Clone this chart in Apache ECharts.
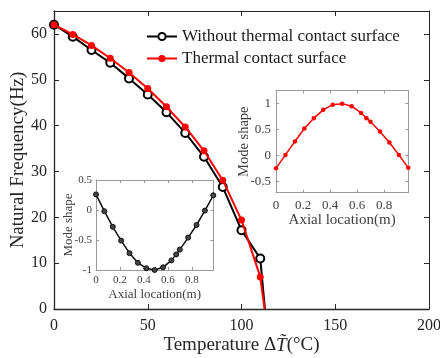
<!DOCTYPE html>
<html>
<head>
<meta charset="utf-8">
<script src="https://cdn.jsdelivr.net/npm/echarts@6/dist/echarts.min.js"></script>
<style>
html,body{margin:0;padding:0;background:#fff;}
#c{width:440px;height:358px;}
</style>
</head>
<body>
<div id="c"></div>
<script>
// ---- data ----
var temps = [0, 10, 20, 30, 40, 50, 60, 70, 80, 90, 100, 110];
var freqWithout = [62.0, 59.4, 56.5, 53.7, 50.3, 46.8, 42.9, 38.4, 33.2, 26.6, 17.2, 11.0];
var freqWith = [62.0, 59.9, 57.5, 54.7, 51.6, 48.1, 44.1, 39.7, 34.5, 28.1, 19.4, 7.0];
var endWithout = [112.5, 0];
var endWith = [112.3, 0];
var xTicksMain = [0, 50, 100, 150, 200];
var yTicksMain = [0, 10, 20, 30, 40, 50, 60];

var axial = [0, 0.07, 0.14, 0.21, 0.28, 0.35, 0.42, 0.49, 0.56, 0.63, 0.67, 0.70, 0.77, 0.84, 0.91, 0.98];
var modeWith = [-0.25, 0.01, 0.27, 0.52, 0.72, 0.88, 0.98, 1.0, 0.95, 0.82, 0.72, 0.65, 0.46, 0.25, 0.01, -0.24];
var modeWithout = [0.26, -0.02, -0.28, -0.51, -0.72, -0.88, -0.97, -1.0, -0.955, -0.84, -0.74, -0.66, -0.46, -0.25, -0.01, 0.245];
var xTicksInset = [0, 0.2, 0.4, 0.6, 0.8];
var yTicksRed = [-0.5, 0, 0.5, 1];
var yTicksBlack = [-1, -0.5, 0, 0.5];

var nameWithout = 'Without thermal contact surface';
var nameWith = 'Thermal contact surface';

// ---- helpers ----
var FF = '"Liberation Serif", "Times New Roman", serif';
function pairs(xs, ys) { return xs.map(function (x, i) { return [x, ys[i]]; }); }
function withEnd(xs, ys, end) {
  var d = pairs(xs, ys);
  d.push({ value: end, symbol: 'none' });
  return d;
}
function fmt(v) { return String(v); }

function mainAxisBase(extra) {
  var o = {
    type: 'value',
    nameMoveOverlap: false,
    axisLine: { show: true, onZero: false, lineStyle: { color: '#262626', width: 1.3 } },
    axisTick: { show: true, inside: true, length: 5, lineStyle: { color: '#262626', width: 1 } },
    splitLine: { show: false },
    axisLabel: { show: false }
  };
  for (var k in extra) o[k] = extra[k];
  return o;
}
function insetAxisBase(extra) {
  var o = {
    type: 'value',
    nameMoveOverlap: false,
    axisLine: { show: true, onZero: false, lineStyle: { color: '#9a9a9a', width: 1 } },
    axisTick: { show: true, inside: true, length: 3, lineStyle: { color: '#9a9a9a', width: 1 } },
    splitLine: { show: false },
    axisLabel: { show: false }
  };
  for (var k in extra) o[k] = extra[k];
  return o;
}

var chart = echarts.init(document.getElementById('c'), null, { renderer: 'canvas' });
var option = {
  animation: false,
  backgroundColor: '#ffffff',
  textStyle: { fontFamily: FF },
  grid: [
    { left: 54, top: 11, width: 375, height: 298, containLabel: false, outerBoundsMode: 'none' },
    { left: 276, top: 90.7, width: 132.3, height: 102, containLabel: false, outerBoundsMode: 'none' },
    { left: 96, top: 180, width: 117.3, height: 90, containLabel: false, outerBoundsMode: 'none' }
  ],
  legend: {
    data: [nameWithout, nameWith],
    orient: 'vertical',
    left: 141,
    top: 23,
    itemWidth: 30,
    itemHeight: 9,
    itemGap: 5,
    textStyle: { fontFamily: FF, fontSize: 17, color: '#1a1a1a', lineHeight: 17 }
  },
  xAxis: [
    mainAxisBase({
      gridIndex: 0, position: 'bottom', min: 0, max: 200,
      axisTick: { show: true, inside: true, length: 5, customValues: xTicksMain, lineStyle: { color: '#262626' } },
      axisLabel: { show: true, customValues: xTicksMain, fontSize: 16, color: '#262626', margin: 9, fontFamily: FF, formatter: fmt },
      name: 'Temperature \u0394{i|T\u0303}(\u00B0C)', nameLocation: 'middle', nameGap: 27,
      nameTextStyle: { fontSize: 19, color: '#262626', fontFamily: FF,
        rich: { i: { fontStyle: 'italic', fontSize: 19, color: '#262626', fontFamily: FF } } }
    }),
    mainAxisBase({
      gridIndex: 0, position: 'top', min: 0, max: 200,
      axisTick: { show: true, inside: true, length: 5, customValues: xTicksMain, lineStyle: { color: '#262626' } },
      axisLine: { show: true, onZero: false, lineStyle: { color: '#262626', width: 1 } }
    }),
    insetAxisBase({
      gridIndex: 1, position: 'bottom', min: 0, max: 0.98,
      axisTick: { show: true, inside: true, length: 3, customValues: xTicksInset, lineStyle: { color: '#9a9a9a' } },
      axisLabel: { show: true, customValues: xTicksInset, fontSize: 13, color: '#404040', margin: 6, fontFamily: FF, formatter: fmt },
      name: 'Axial location(m)', nameLocation: 'middle', nameGap: 20,
      nameTextStyle: { fontSize: 15, color: '#404040', fontFamily: FF }
    }),
    insetAxisBase({
      gridIndex: 1, position: 'top', min: 0, max: 0.98,
      axisTick: { show: true, inside: true, length: 3, customValues: xTicksInset, lineStyle: { color: '#9a9a9a' } }
    }),
    insetAxisBase({
      gridIndex: 2, position: 'bottom', min: 0, max: 0.98,
      axisTick: { show: true, inside: true, length: 3, customValues: xTicksInset, lineStyle: { color: '#9a9a9a' } },
      axisLabel: { show: true, customValues: xTicksInset, fontSize: 11, color: '#404040', margin: 5, fontFamily: FF, formatter: fmt },
      name: 'Axial location(m)', nameLocation: 'middle', nameGap: 18,
      nameTextStyle: { fontSize: 13, color: '#404040', fontFamily: FF }
    }),
    insetAxisBase({
      gridIndex: 2, position: 'top', min: 0, max: 0.98,
      axisTick: { show: true, inside: true, length: 3, customValues: xTicksInset, lineStyle: { color: '#9a9a9a' } }
    })
  ],
  yAxis: [
    mainAxisBase({
      gridIndex: 0, position: 'left', min: 0, max: 65,
      axisTick: { show: true, inside: true, length: 5, customValues: yTicksMain, lineStyle: { color: '#262626' } },
      axisLabel: { show: true, customValues: yTicksMain, fontSize: 16, color: '#262626', margin: 7, fontFamily: FF, formatter: fmt },
      name: 'Natural Frequency(Hz)', nameLocation: 'middle', nameGap: 26, nameRotate: 90,
      nameTextStyle: { fontSize: 19, color: '#262626', fontFamily: FF }
    }),
    mainAxisBase({
      gridIndex: 0, position: 'right', min: 0, max: 65,
      axisTick: { show: true, inside: true, length: 5, customValues: yTicksMain, lineStyle: { color: '#262626' } },
      axisLine: { show: true, onZero: false, lineStyle: { color: '#262626', width: 1 } }
    }),
    insetAxisBase({
      gridIndex: 1, position: 'left', min: -0.72, max: 1.25,
      axisTick: { show: true, inside: true, length: 3, customValues: yTicksRed, lineStyle: { color: '#9a9a9a' } },
      axisLabel: { show: true, customValues: yTicksRed, fontSize: 13, color: '#404040', margin: 5, fontFamily: FF, formatter: fmt },
      name: 'Mode shape', nameLocation: 'middle', nameGap: 24, nameRotate: 90,
      nameTextStyle: { fontSize: 14.5, color: '#404040', fontFamily: FF }
    }),
    insetAxisBase({
      gridIndex: 1, position: 'right', min: -0.72, max: 1.25,
      axisTick: { show: true, inside: true, length: 3, customValues: yTicksRed, lineStyle: { color: '#9a9a9a' } }
    }),
    insetAxisBase({
      gridIndex: 2, position: 'left', min: -1, max: 0.5,
      axisTick: { show: true, inside: true, length: 3, customValues: yTicksBlack, lineStyle: { color: '#9a9a9a' } },
      axisLabel: { show: true, customValues: yTicksBlack, fontSize: 11, color: '#404040', margin: 4, fontFamily: FF, formatter: fmt },
      name: 'Mode shape', nameLocation: 'middle', nameGap: 21, nameRotate: 90,
      nameTextStyle: { fontSize: 13, color: '#404040', fontFamily: FF }
    }),
    insetAxisBase({
      gridIndex: 2, position: 'right', min: -1, max: 0.5,
      axisTick: { show: true, inside: true, length: 3, customValues: yTicksBlack, lineStyle: { color: '#9a9a9a' } }
    })
  ],
  series: [
    {
      name: nameWithout, type: 'line', xAxisIndex: 0, yAxisIndex: 0,
      data: withEnd(temps, freqWithout, endWithout),
      symbol: 'emptyCircle', symbolSize: 8,
      lineStyle: { color: '#000', width: 2 },
      itemStyle: { color: '#000', borderColor: '#000', borderWidth: 2 },
      z: 3
    },
    {
      name: nameWith, type: 'line', xAxisIndex: 0, yAxisIndex: 0,
      data: withEnd(temps, freqWith, endWith),
      symbol: 'circle', symbolSize: 7,
      lineStyle: { color: '#ff0000', width: 2 },
      itemStyle: { color: '#ff0000' },
      z: 4
    },
    {
      name: 'insetRed', type: 'line', xAxisIndex: 2, yAxisIndex: 2,
      data: pairs(axial, modeWith),
      symbol: 'circle', symbolSize: 4.5,
      lineStyle: { color: '#ff0000', width: 1.5 },
      itemStyle: { color: '#ff0000' }
    },
    {
      name: 'insetBlack', type: 'line', xAxisIndex: 4, yAxisIndex: 4,
      data: pairs(axial, modeWithout),
      symbol: 'circle', symbolSize: 5,
      lineStyle: { color: '#111', width: 1.5 },
      itemStyle: { color: '#444', borderColor: '#111', borderWidth: 1 }
    }
  ]
};
chart.setOption(option);
</script>
</body>
</html>
